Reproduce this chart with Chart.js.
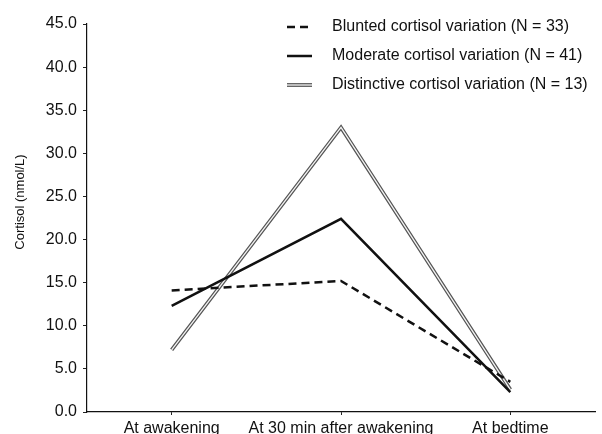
<!DOCTYPE html>
<html>
<head>
<meta charset="utf-8">
<script src="https://cdn.jsdelivr.net/npm/chart.js@4"></script>
<style>
  html, body { margin: 0; padding: 0; background: #fff; }
  #wrap { width: 602px; height: 434px; position: relative; }
</style>
</head>
<body>
<div id="wrap"><canvas id="chart"></canvas></div>
<script>
// Cortisol levels by variation group
const categories = ['At awakening', 'At 30 min after awakening', 'At bedtime'];
const seriesNames = [
  'Blunted cortisol variation (N = 33)',
  'Moderate cortisol variation (N = 41)',
  'Distinctive cortisol variation (N = 13)'
];
const blunted = [14.1, 15.2, 3.5];
const moderate = [12.3, 22.4, 2.3];
const distinctive = [7.2, 33.0, 2.6];
const yTicks = [0, 5, 10, 15, 20, 25, 30, 35, 40, 45];
const yTitle = 'Cortisol (nmol/L)';

const FONT = '"Liberation Sans", Arial, sans-serif';

// inner light stroke for the double-line series
const doubleLine = {
  id: 'doubleLine',
  afterDatasetDraw(chart, args) {
    if (args.index !== 2) return;
    const pts = args.meta.data;
    const ctx = chart.ctx;
    ctx.save();
    ctx.strokeStyle = '#f4f4f4';
    ctx.lineWidth = 1.3;
    ctx.beginPath();
    pts.forEach((p, i) => i ? ctx.lineTo(p.x, p.y) : ctx.moveTo(p.x, p.y));
    ctx.stroke();
    ctx.restore();
  }
};

// legend inside the plot (top right) + y axis title
const insideLegend = {
  id: 'insideLegend',
  afterDraw(chart) {
    const ctx = chart.ctx;
    const x0 = 287, x1 = 312, tx = 332;
    const rows = [27, 56, 85];
    ctx.save();
    ctx.font = '16px ' + FONT;
    ctx.textBaseline = 'middle';
    ctx.fillStyle = '#111';
    chart.data.datasets.forEach((ds, i) => {
      const y = rows[i];
      ctx.beginPath();
      ctx.setLineDash(ds.borderDash || []);
      ctx.strokeStyle = ds.borderColor;
      ctx.lineWidth = ds.borderWidth;
      ctx.moveTo(x0, y);
      ctx.lineTo(x1, y);
      ctx.stroke();
      if (i === 2) {
        ctx.strokeStyle = '#f4f4f4';
        ctx.lineWidth = 1.3;
        ctx.beginPath();
        ctx.moveTo(x0, y);
        ctx.lineTo(x1, y);
        ctx.stroke();
      }
      ctx.setLineDash([]);
      ctx.fillText(seriesNames[i], tx, y);
    });

    // rotated axis title
    ctx.translate(20, 202);
    ctx.rotate(-Math.PI / 2);
    ctx.font = '13px ' + FONT;
    ctx.textAlign = 'center';
    ctx.fillText(yTitle, 0, 0);
    ctx.restore();
  }
};

new Chart(document.getElementById('chart'), {
  type: 'line',
  data: {
    labels: categories,
    datasets: [
      {
        label: seriesNames[0],
        data: blunted,
        borderColor: '#111',
        borderWidth: 2.5,
        borderDash: [8, 5],
        pointRadius: 0,
        tension: 0
      },
      {
        label: seriesNames[1],
        data: moderate,
        borderColor: '#111',
        borderWidth: 2.5,
        pointRadius: 0,
        tension: 0
      },
      {
        label: seriesNames[2],
        data: distinctive,
        borderColor: '#555',
        borderWidth: 3.8,
        pointRadius: 0,
        tension: 0
      }
    ]
  },
  options: {
    responsive: true,
    maintainAspectRatio: false,
    animation: false,
    layout: { padding: { top: 24, right: 7, left: 0, bottom: 0 } },
    plugins: {
      legend: { display: false },
      tooltip: { enabled: false }
    },
    scales: {
      x: {
        offset: true,
        grid: {
          offset: false,
          drawOnChartArea: false,
          color: '#222',
          tickLength: 3
        },
        border: { color: '#111', width: 1.2 },
        ticks: {
          color: '#111',
          font: { family: FONT, size: 16 },
          padding: 4,
          maxRotation: 0,
          autoSkip: false
        },
        afterFit(scale) { scale.height = 22; }
      },
      y: {
        min: 0,
        max: 45,
        afterBuildTicks(scale) { scale.ticks = yTicks.map(v => ({ value: v })); },
        grid: {
          drawOnChartArea: false,
          color: '#222',
          tickLength: 4
        },
        border: { color: '#111', width: 1.2 },
        ticks: {
          color: '#111',
          font: { family: FONT, size: 16 },
          padding: 6,
          callback: v => v.toFixed(1)
        },
        afterFit(scale) { scale.width = 87; }
      }
    }
  },
  plugins: [doubleLine, insideLegend]
});
</script>
</body>
</html>
